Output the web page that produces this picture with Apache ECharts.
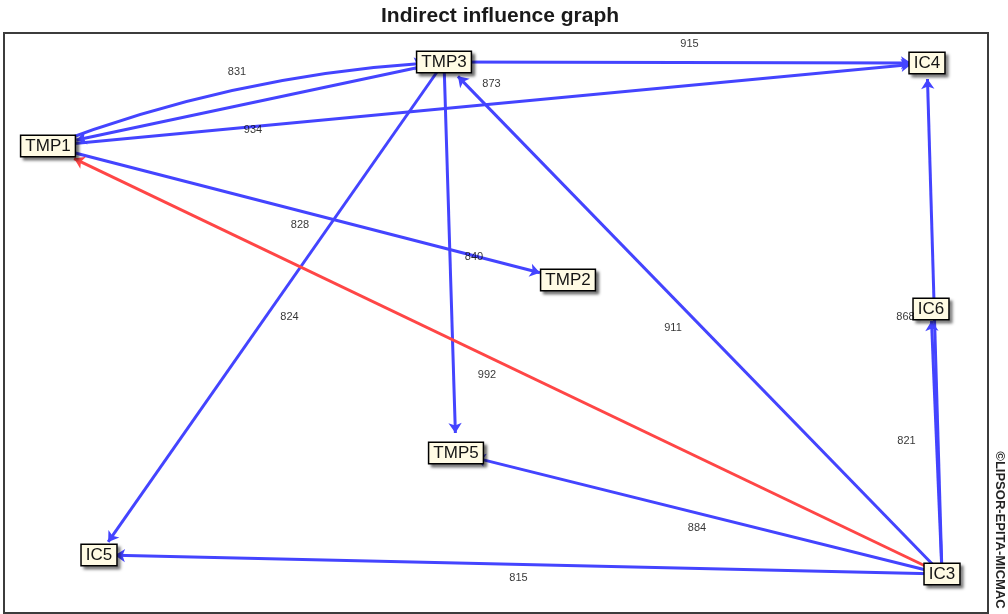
<!DOCTYPE html>
<html>
<head>
<meta charset="utf-8">
<title>Indirect influence graph</title>
<script src="https://cdn.jsdelivr.net/npm/echarts@6/dist/echarts.min.js"></script>
<style>
  html, body { margin: 0; padding: 0; background: #fff; }
  #chart { width: 1008px; height: 614px; }
</style>
</head>
<body>
<div id="chart"></div>
<script>
// variables and where they sit on the plane
const nodeNames = ['TMP1', 'TMP3', 'IC4', 'TMP2', 'IC6', 'IC3', 'TMP5', 'IC5'];
const nodeX = [48, 444, 927, 568, 931, 942, 456, 99];
const nodeY = [146, 62, 63, 280, 309, 574, 453, 555];

// indirect influences: source -> target with strength
const edgeSource = ['TMP1', 'TMP3', 'TMP1', 'TMP3', 'TMP1', 'TMP3', 'TMP3', 'IC3', 'IC3', 'IC3', 'IC3', 'IC3', 'IC3'];
const edgeTarget = ['TMP3', 'TMP1', 'IC4', 'IC4', 'TMP2', 'IC5', 'TMP5', 'TMP1', 'TMP3', 'TMP5', 'IC5', 'IC6', 'IC4'];
const edgeValue = [831, 934, 873, 915, 828, 824, 840, 992, 911, 884, 815, 821, 868];

// drawing tweaks (not data)
const edgeCurve = [0.08, 0, 0, 0, 0, 0, 0, 0, 0, 0, 0, 0, 0];
const labelNudge = [[-9, -32], [7, 26], [4, -21], [4, -19], [-8, 12], [18, 8], [24, -1], [-8, 15], [-20, 10], [-2, 14], [-2, 13], [-30, -1], [-29, -2]];
const nodeTrim = [58, 40, 32, 58, 24, 30, 40, 32];

const BLUE = '#4444ff';
const RED = '#ff4646';
const maxVal = Math.max(...edgeValue);

const chart = echarts.init(document.getElementById('chart'));

const nodes = nodeNames.map((n, i) => ({
  name: n,
  value: [nodeX[i], nodeY[i]],
  symbolSize: nodeTrim[i]
}));

const links = edgeValue.map((v, i) => ({
  source: edgeSource[i],
  target: edgeTarget[i],
  value: v,
  lineStyle: {
    color: v === maxVal ? RED : BLUE,
    curveness: edgeCurve[i]
  }
}));

// edge value labels at the middle of each link
const edgeLabels = edgeValue.map((v, i) => {
  const a = nodeNames.indexOf(edgeSource[i]);
  const b = nodeNames.indexOf(edgeTarget[i]);
  return {
    name: String(v),
    value: [(nodeX[a] + nodeX[b]) / 2, (nodeY[a] + nodeY[b]) / 2],
    label: { offset: labelNudge[i] }
  };
});

chart.setOption({
  animation: false,
  title: {
    text: 'Indirect influence graph',
    left: 376,
    top: 1,
    textStyle: { fontFamily: 'Liberation Sans', fontSize: 21, fontWeight: 'bold', color: '#1a1a1a' }
  },
  grid: { left: 0, right: 0, top: 0, bottom: 0 },
  xAxis: { type: 'value', min: 0, max: 1008, show: false },
  yAxis: { type: 'value', min: 0, max: 614, inverse: true, show: false },
  graphic: [
    {
      type: 'rect',
      shape: { x: 4, y: 33, width: 984, height: 580 },
      style: { fill: 'none', stroke: '#3c3c3c', lineWidth: 2 },
      z: 0
    },
    {
      type: 'text',
      x: 1000,
      y: 530,
      rotation: -Math.PI / 2,
      style: {
        text: '©LIPSOR-EPITA-MICMAC',
        font: 'bold 13px "Liberation Sans"',
        fill: '#222',
        align: 'center',
        verticalAlign: 'middle'
      }
    }
  ],
  series: [
    {
      type: 'graph',
      coordinateSystem: 'cartesian2d',
      layout: 'none',
      symbol: 'rect',
      itemStyle: { color: 'rgba(0,0,0,0)' },
      edgeSymbol: ['none', 'arrow'],
      edgeSymbolSize: [4, 10],
      label: {
        show: true,
        position: 'inside',
        formatter: '{b}',
        fontFamily: 'Liberation Sans',
        fontSize: 17,
        color: '#141414',
        backgroundColor: '#fffbe4',
        borderColor: '#000',
        borderWidth: 1.5,
        padding: [2, 4, 1, 4],
        shadowColor: 'rgba(0,0,0,0.45)',
        shadowBlur: 3,
        shadowOffsetX: 3,
        shadowOffsetY: 3
      },
      lineStyle: { width: 3, opacity: 1 },
      emphasis: { disabled: true },
      data: nodes,
      links: links
    },
    {
      type: 'scatter',
      symbolSize: 0,
      itemStyle: { color: 'rgba(0,0,0,0)' },
      label: {
        show: true,
        position: 'inside',
        formatter: '{b}',
        fontFamily: 'Liberation Sans',
        fontSize: 11,
        color: '#000'
      },
      emphasis: { disabled: true },
      data: edgeLabels
    }
  ]
});
</script>
</body>
</html>
